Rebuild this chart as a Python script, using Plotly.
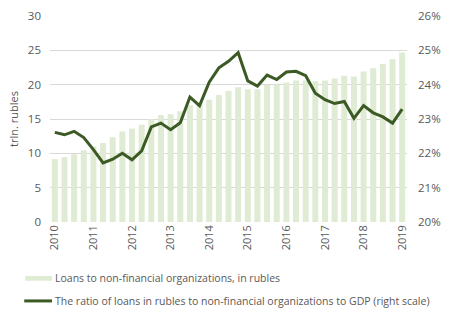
import plotly.graph_objects as go

quarters = [f"{y}Q{q}" for y in range(2010, 2019) for q in range(1, 5)] + ["2019Q1"]
loans = [9.16, 9.44, 9.86, 10.42, 11.0, 11.5, 12.34, 13.18, 13.6, 14.17, 14.96, 15.57,
         15.7, 16.13, 17.0, 17.3, 17.8, 18.5, 19.07, 19.64, 19.35, 19.35, 20.0, 20.0,
         20.3, 20.6, 20.6, 20.5, 20.6, 20.9, 21.3, 21.2, 21.9, 22.4, 23.0, 23.7, 24.7]
ratio = [22.61, 22.54, 22.64, 22.46, 22.11, 21.72, 21.83, 22.0, 21.81, 22.07, 22.77, 22.88,
         22.69, 22.89, 23.64, 23.39, 24.07, 24.49, 24.68, 24.93, 24.11, 23.96, 24.28, 24.15,
         24.37, 24.39, 24.26, 23.75, 23.56, 23.45, 23.51, 23.02, 23.39, 23.18, 23.06, 22.88, 23.29]
year_ticks = list(range(0, 37, 4))
year_labels = [str(y) for y in range(2010, 2020)]
left_ticks = [0, 5, 10, 15, 20, 25, 30]
right_ticks = [20, 21, 22, 23, 24, 25, 26]
right_labels = [f"{v}%" for v in right_ticks]

BAR = "#dfebd3"
LINE = "#3b5a24"
TXT = "#595959"
FONT = "Open Sans"

x = list(range(len(quarters)))
fig = go.Figure()
fig.add_trace(go.Bar(x=x, y=loans, marker=dict(color=BAR, line=dict(width=0)),
                     name="Loans to non-financial organizations, in rubles", yaxis="y"))
fig.add_trace(go.Scatter(x=x, y=ratio, mode="lines", line=dict(color=LINE, width=3),
                         name="ratio", yaxis="y2"))

L, R, T, B = 50, 39, 8, 100
W, H = 449, 322
pw, ph = W - L - R, H - T - B

def px(xp):
    return (xp - L) / pw

def py(yp):
    return (H - B - yp) / ph

fig.update_layout(
    width=W, height=H, margin=dict(l=L, r=R, t=T, b=B, pad=0),
    paper_bgcolor="white", plot_bgcolor="white", showlegend=False,
    bargap=0.38,
    font=dict(family=FONT, size=11, color=TXT),
    xaxis=dict(range=[-0.5, 36.5], tickmode="array", tickvals=year_ticks, ticktext=year_labels,
               tickangle=-90, showgrid=False, zeroline=False, showline=False, ticks="",
               tickfont=dict(size=11, color=TXT)),
    yaxis=dict(range=[0, 30], tickvals=left_ticks, showgrid=True, gridcolor="#d9d9d9",
               gridwidth=1, zeroline=False, showline=False, ticks="", ticklabelstandoff=8,
               tickfont=dict(size=11.5, color=TXT),
               title=dict(text="trln. rubles", font=dict(size=11, color=TXT), standoff=6)),
    yaxis2=dict(range=[20, 26], tickvals=right_ticks, ticktext=right_labels, overlaying="y",
                side="right", showgrid=False, zeroline=False, showline=False, ticks="",
                ticklabelstandoff=10, tickfont=dict(size=11.5, color=TXT)),
)

shapes = [
    dict(type="rect", xref="paper", yref="paper", x0=px(25), x1=px(52), y0=py(283), y1=py(278),
         fillcolor=BAR, line=dict(width=0)),
    dict(type="line", xref="paper", yref="paper", x0=px(24), x1=px(52), y0=py(304), y1=py(304),
         line=dict(color=LINE, width=3)),
]
annotations = [
    dict(xref="paper", yref="paper", x=px(53), y=py(280), xanchor="left", yanchor="middle",
         text="Loans to non-financial organizations, in rubles", showarrow=False,
         font=dict(size=10.5, color=TXT, family=FONT)),
    dict(xref="paper", yref="paper", x=px(53), y=py(304), xanchor="left", yanchor="middle",
         text="The ratio of loans in rubles to non-financial organizations to GDP (right scale)",
         showarrow=False, font=dict(size=10.5, color=TXT, family=FONT)),
]
fig.update_layout(shapes=shapes, annotations=annotations)
fig.write_html("out.html")
